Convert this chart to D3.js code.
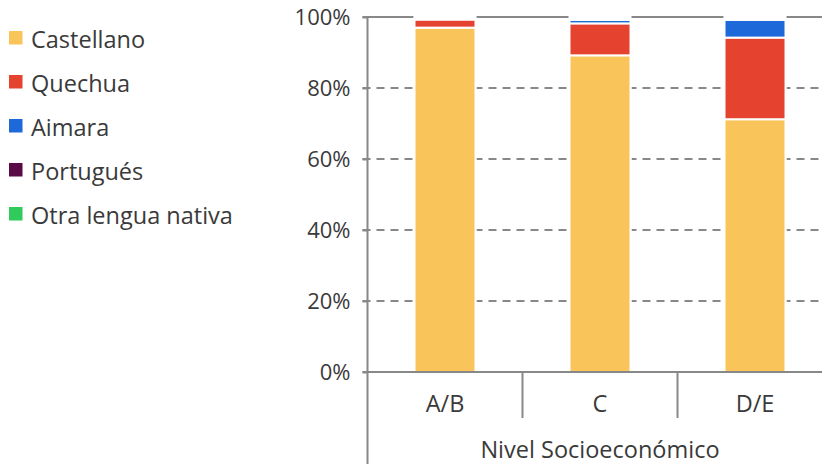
<!DOCTYPE html>
<html><head><meta charset="utf-8">
<script src="https://cdn.jsdelivr.net/npm/d3@7"></script>
<style>html,body{margin:0;padding:0;background:#fff;} svg{display:block;font-family:"Open Sans","Noto Sans",sans-serif;}</style>
</head><body>
<svg id="c" width="822" height="464"></svg>
<script>
const categories = ["A/B", "C", "D/E"];
const series = ["Castellano", "Quechua", "Aimara", "Portugués", "Otra lengua nativa"];
const castellano = [97.0, 89.2, 71.2];
const quechua = [2.3, 9.0, 23.0];
const aimara = [0.1, 1.0, 5.0];
const portugues = [0.1, 0.1, 0.0];
const otra = [0.1, 0.1, 0.2];
const yTicks = [0, 20, 40, 60, 80, 100];
const colors = ["#F9C55B", "#E5432F", "#1E69DA", "#5A0B47", "#31CB5C"];
const xTitle = "Nivel Socioeconómico";

const rows = categories.map((c, i) => ({cat: c, "Castellano": castellano[i], "Quechua": quechua[i], "Aimara": aimara[i], "Portugués": portugues[i], "Otra lengua nativa": otra[i]}));
const stack = d3.stack().keys(series)(rows);

const svg = d3.select("#c");
const x0 = 367.5, plotTop = 17, plotBottom = 372;
const x = d3.scaleBand().domain(categories).range([x0, x0 + 155 * 3]).padding(0);
const y = d3.scaleLinear().domain([0, 100]).range([plotBottom, plotTop]);
const color = d3.scaleOrdinal().domain(series).range(colors);
const barW = 61;
const font = "'Open Sans', sans-serif";
const txt = "#3a3a3a";

// gridlines
svg.append("g").selectAll("line").data(yTicks.filter(t => t > 0)).join("line")
  .attr("x1", x0 - 5).attr("x2", 822)
  .attr("y1", d => y(d)).attr("y2", d => y(d))
  .attr("stroke", "#888").attr("stroke-width", 2)
  .attr("stroke-dasharray", d => d === 100 ? null : "8,6");

// bar background
svg.append("g").selectAll("rect").data(categories).join("rect")
  .attr("x", d => x(d) + x.bandwidth() / 2 - barW / 2).attr("width", barW)
  .attr("y", y(100)).attr("height", y(0) - y(100))
  .attr("fill", "#fff").attr("stroke", "#fff").attr("stroke-width", 2);

// bars
svg.append("g").selectAll("g").data(stack).join("g")
  .attr("fill", d => color(d.key))
  .selectAll("rect").data(d => d).join("rect")
  .attr("x", d => x(d.data.cat) + x.bandwidth() / 2 - barW / 2).attr("width", barW)
  .attr("y", d => y(d[1])).attr("height", d => Math.max(0, y(d[0]) - y(d[1])))
  .attr("stroke", "#fff").attr("stroke-width", 2);

// y axis
const yAxis = svg.append("g").attr("transform", `translate(${x0},0)`)
  .call(d3.axisLeft(y).tickValues(yTicks).tickFormat(d => d + "%").tickSize(5).tickPadding(12));
yAxis.select(".domain").remove();
yAxis.selectAll(".tick line").attr("stroke", "#888").attr("stroke-width", 2);
yAxis.selectAll(".tick text").attr("fill", txt).attr("font-size", 22).attr("font-family", font);
svg.append("line").attr("x1", x0).attr("x2", x0).attr("y1", plotTop).attr("y2", 464)
  .attr("stroke", "#888").attr("stroke-width", 2);

// x axis
svg.append("line").attr("x1", x0 - 5).attr("x2", 822).attr("y1", plotBottom).attr("y2", plotBottom)
  .attr("stroke", "#888").attr("stroke-width", 2);
svg.append("g").selectAll("line").data(categories.slice(1)).join("line")
  .attr("x1", d => x(d)).attr("x2", d => x(d)).attr("y1", plotBottom).attr("y2", 418)
  .attr("stroke", "#888").attr("stroke-width", 2);
svg.append("g").selectAll("text").data(categories).join("text")
  .attr("x", d => x(d) + x.bandwidth() / 2).attr("y", 412)
  .attr("text-anchor", "middle").attr("font-size", 23.5).attr("fill", txt).attr("font-family", font).text(d => d);
svg.append("text").attr("x", x(categories[1]) + x.bandwidth() / 2).attr("y", 458)
  .attr("text-anchor", "middle").attr("font-size", 23.5).attr("fill", txt).attr("font-family", font).text(xTitle);

// legend
const lg = svg.append("g").selectAll("g").data(series).join("g")
  .attr("transform", (d, i) => `translate(0,${48 + i * 44})`);
lg.append("rect").attr("x", 9).attr("y", -17).attr("width", 13.5).attr("height", 13.5).attr("fill", d => color(d));
lg.append("text").attr("x", 31).attr("y", 0).attr("font-size", 23.5).attr("fill", txt).attr("font-family", font).text(d => d);
</script>
</body></html>
